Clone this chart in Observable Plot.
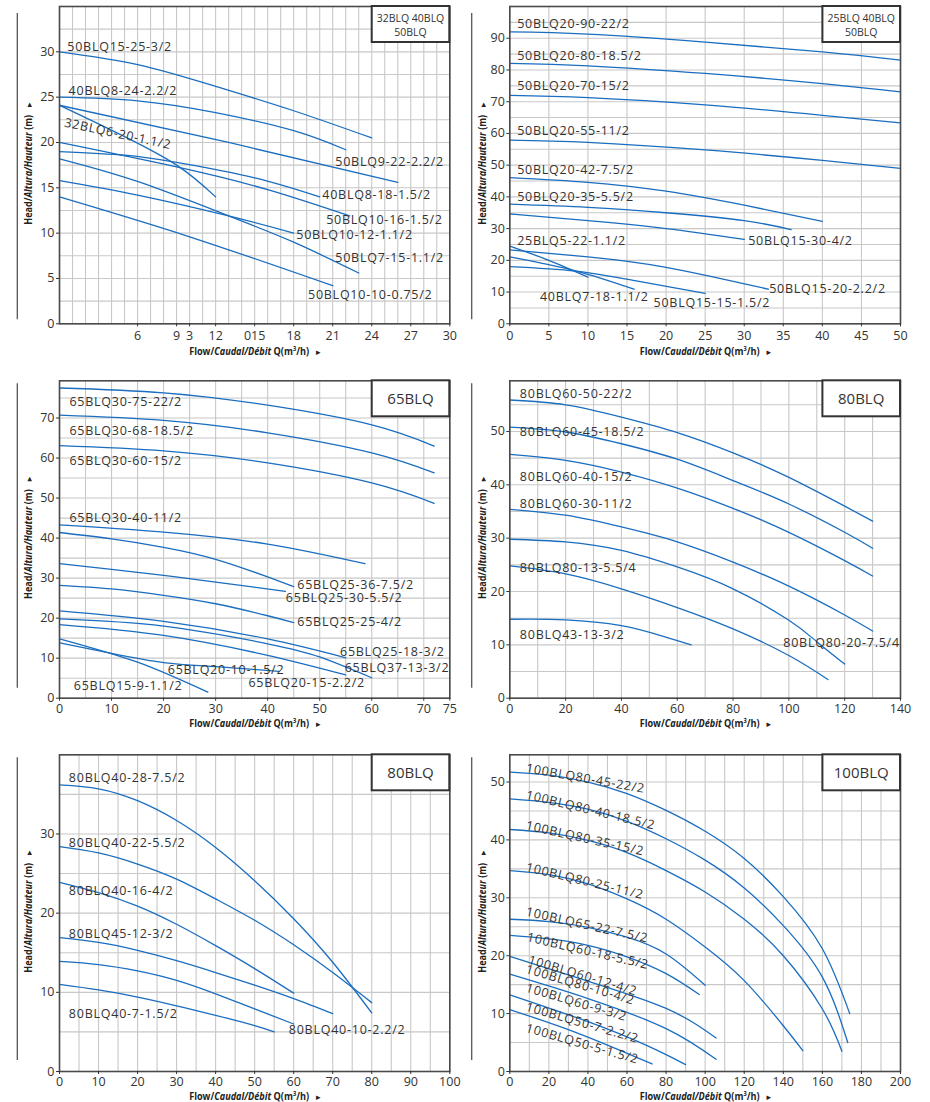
<!DOCTYPE html>
<html><head><meta charset="utf-8">
<script src="https://cdn.jsdelivr.net/npm/d3@7"></script>
<script src="https://cdn.jsdelivr.net/npm/@observablehq/plot@0.6"></script>
<style>
body{margin:0;background:#fff;}
#wrap{position:relative;width:930px;height:1102px;overflow:hidden;}
.panel{position:absolute;}
</style></head><body><div id="wrap"></div>
<script>
// ---------- Panel 1 : 32BLQ 40BLQ 50BLQ ----------
const p1Series = [
  ["50BLQ15-25-3/2", [[0,30],[6,28.6],[12,26.2],[18,23.5],[24,20.5]]],
  ["40BLQ8-24-2.2/2", [[0,25],[6,24.6],[12,23.3],[18,21.3],[22,19.2]]],
  ["50BLQ9-22-2.2/2", [[0,24.1],[13,20.0],[26,15.6]]],
  ["32BLQ6-20-1.1/2", [[0,24.1],[4.5,21.0],[9,17.5],[12,14.0]]],
  ["40BLQ8-18-1.5/2", [[0,19],[5,18.6],[9,17.8],[15,16.1],[20,14.0]]],
  ["50BLQ10-16-1.5/2", [[0,20],[9,17.3],[16,14.8],[22.3,11.9]]],
  ["50BLQ10-12-1.1/2", [[0,15.8],[6,14.2],[13,11.9],[18,10]]],
  ["50BLQ7-15-1.1/2", [[0,18.2],[6,15.7],[13,11.9],[18,9.0],[23,5.6]]],
  ["50BLQ10-10-0.75/2", [[0,14],[10,9.6],[21,4.2]]]
];
const p1Labels = [
  ["50BLQ15-25-3/2",0.6,30.55,0],["40BLQ8-24-2.2/2",0.7,25.7,0],["32BLQ6-20-1.1/2",0.4,22.2,12],
  ["50BLQ9-22-2.2/2",21.2,17.85,0],["40BLQ8-18-1.5/2",20.2,14.25,0],["50BLQ10-16-1.5/2",20.5,11.5,0],
  ["50BLQ10-12-1.1/2",18.2,9.85,0],["50BLQ7-15-1.1/2",21.2,7.3,0],["50BLQ10-10-0.75/2",19.1,3.2,0]
];
const p1XTicks = [6,9,10,12,15,18,21,24,27,30];
const p1XTickLabels = ["6","9","3","12","015","18","21","24","27","30"];
const p1YTicks = [0,5,10,15,20,25,30];

// ---------- Panel 2 : 25BLQ 40BLQ 50BLQ ----------
const p2Series = [
  ["50BLQ20-90-22/2", [[0,92],[10,91.3],[25,88.8],[40,85.7],[50,83.1]]],
  ["50BLQ20-80-18.5/2", [[0,82.1],[10,81.3],[25,78.9],[40,75.7],[50,73.1]]],
  ["50BLQ20-70-15/2", [[0,72],[10,71.3],[25,69],[40,65.7],[50,63.3]]],
  ["50BLQ20-55-11/2", [[0,57.9],[10,57.2],[25,54.8],[40,51.5],[50,49]]],
  ["50BLQ20-42-7.5/2", [[0,46.1],[10,44.6],[20,41.8],[30,37.4],[40,32.3]]],
  ["50BLQ20-35-5.5/2", [[0,37.7],[10,36.7],[20,35],[30,32.5],[36,29.7]]],
  ["50BLQ15-30-4/2", [[0,34.6],[10,32.5],[20,30],[30,26.6]]],
  ["50BLQ15-20-2.2/2", [[0,23.3],[10,21.1],[20,17.8],[33.1,10.9]]],
  ["25BLQ5-22-1.1/2", [[0,24.5],[5,20],[10,14.7]]],
  ["40BLQ7-18-1.1/2", [[0,21.1],[8.4,16.7],[15.9,10.9]]],
  ["50BLQ15-15-1.5/2", [[0,18],[8.4,16.6],[16,13.6],[25,9.6]]]
];
const p2Labels = [
  ["50BLQ20-90-22/2",0.95,94.6,0],["50BLQ20-80-18.5/2",0.95,84.4,0],["50BLQ20-70-15/2",0.95,74.8,0],
  ["50BLQ20-55-11/2",0.95,60.9,0],["50BLQ20-42-7.5/2",0.95,48.6,0],["50BLQ20-35-5.5/2",0.95,40.1,0],
  ["50BLQ15-30-4/2",30.5,26.0,0],["25BLQ5-22-1.1/2",0.95,26.0,0],["50BLQ15-20-2.2/2",33.2,11.1,0],
  ["40BLQ7-18-1.1/2",3.85,8.3,0],["50BLQ15-15-1.5/2",18.4,6.6,0]
];
const p2XTicks = [0,5,10,15,20,25,30,35,40,45,50];
const p2YTicks = [0,10,20,30,40,50,60,70,80,90];

// ---------- Panel 3 : 65BLQ ----------
const p3Series = [
  ["65BLQ30-75-22/2", [[0,77.5],[20,76.3],[40,73.2],[60,68.3],[72,63]]],
  ["65BLQ30-68-18.5/2", [[0,70.7],[20,69.4],[40,66.3],[60,61.3],[72,56.3]]],
  ["65BLQ30-60-15/2", [[0,63.1],[20,61.8],[40,58.8],[60,53.8],[72,48.7]]],
  ["65BLQ30-40-11/2", [[0,43.3],[20,41.5],[40,38.5],[58.7,33.6]]],
  ["65BLQ25-36-7.5/2", [[0,41.4],[10,39.8],[20,37.7],[30,34.7],[40,30.3],[45,27.9]]],
  ["65BLQ25-30-5.5/2", [[0,33.6],[10,32.2],[20,30.7],[30,29],[43.4,26.7]]],
  ["65BLQ25-25-4/2", [[0,28.2],[10,27.3],[20,25.7],[30,23.6],[40,20.6],[45,18.9]]],
  ["65BLQ25-18-3/2", [[0,21.8],[20,19.2],[40,14.8],[55,10.1]]],
  ["65BLQ37-13-3/2", [[0,19.8],[20,18],[40,13.6],[50,10.3],[60,5.1]]],
  ["65BLQ20-15-2.2/2", [[0,18.4],[20,15.7],[40,10.7],[55,5.8]]],
  ["65BLQ20-10-1.5/2", [[0,13.85],[10,11.2],[20,8.9],[30,7.9],[42.2,6.7]]],
  ["65BLQ15-9-1.1/2", [[0,14.85],[15,9.0],[28.5,1.5]]]
];
const p3Labels = [
  ["65BLQ30-75-22/2",1.9,74,0],["65BLQ30-68-18.5/2",1.9,66.75,0],["65BLQ30-60-15/2",1.9,59.25,0],
  ["65BLQ30-40-11/2",1.9,45,0],["65BLQ25-36-7.5/2",45.7,28.3,0],["65BLQ25-30-5.5/2",43.5,25.1,0],
  ["65BLQ25-25-4/2",45.7,19,0],["65BLQ25-18-3/2",53.9,11.5,0],["65BLQ37-13-3/2",54.8,7.6,0],
  ["65BLQ20-10-1.5/2",20.8,7,0],["65BLQ20-15-2.2/2",36.3,3.8,0],["65BLQ15-9-1.1/2",2.75,3,0]
];
const p3XTicks = [0,10,20,30,40,50,60,70,75];
const p3YTicks = [0,10,20,30,40,50,60,70];

// ---------- Panel 4 : 80BLQ ----------
const p4Series = [
  ["80BLQ60-50-22/2", [[0,55.9],[20,55],[40,52.7],[60,49.8],[80,46],[100,41.4],[120,36],[130,33.2]]],
  ["80BLQ60-45-18.5/2", [[0,50.8],[20,49.9],[40,47.7],[60,44.8],[80,40.8],[100,36.4],[120,31.1],[130,28.1]]],
  ["80BLQ60-40-15/2", [[0,45.7],[20,44.6],[40,42.4],[60,39.4],[80,35.6],[100,31.1],[120,25.8],[130,22.9]]],
  ["80BLQ60-30-11/2", [[0,35.4],[20,34.3],[40,32.1],[60,29.3],[80,25.5],[100,21],[120,15.6],[130,12.6]]],
  ["80BLQ80-20-7.5/4", [[0,29.8],[20,29.3],[40,27.7],[60,24.6],[80,20.5],[100,14.6],[110,10.6],[120,6.4]]],
  ["80BLQ80-13-5.5/4", [[0,24.8],[20,23.3],[40,20.5],[60,17],[80,13],[100,8],[114,3.5]]],
  ["80BLQ43-13-3/2", [[0,14.8],[20,14.7],[40,13.6],[55,11.6],[65,10]]]
];
const p4Labels = [
  ["80BLQ60-50-22/2",3.6,57.1,0],["80BLQ60-45-18.5/2",3.6,49.9,0],["80BLQ60-40-15/2",3.6,41.4,0],
  ["80BLQ60-30-11/2",3.6,36.4,0],["80BLQ80-13-5.5/4",3.6,24.4,0],["80BLQ43-13-3/2",3.6,11.9,0],
  ["80BLQ80-20-7.5/4",98,10.3,0]
];
const p4XTicks = [0,20,40,60,80,100,120,140];
const p4YTicks = [0,10,20,30,40,50];

// ---------- Panel 5 : 80BLQ ----------
const p5Series = [
  ["80BLQ40-28-7.5/2", [[0,36.2],[10,35.7],[20,34.2],[30,31.7],[40,28.3],[50,24.1],[60,19.3],[70,13.8],[80,7.4]]],
  ["80BLQ40-22-5.5/2", [[0,28.4],[10,27.6],[20,26.2],[30,24.3],[40,21.8],[50,19.1],[60,16],[70,12.5],[80,8.7]]],
  ["80BLQ40-16-4/2", [[0,23.9],[10,22.6],[20,20.9],[30,18.6],[40,15.9],[50,13],[60,9.9]]],
  ["80BLQ45-12-3/2", [[0,16.9],[10,16.3],[20,15.3],[30,14],[40,12.5],[50,10.9],[60,9.2],[70,7.3]]],
  ["80BLQ40-10-2.2/2", [[0,13.9],[10,13.5],[20,12.7],[30,11.5],[40,9.8],[50,7.9],[60,6]]],
  ["80BLQ40-7-1.5/2", [[0,11],[10,10.3],[20,9.4],[30,8.3],[40,7.1],[50,5.8],[55,5]]]
];
const p5Labels = [
  ["80BLQ40-28-7.5/2",2.4,37.1,0],["80BLQ40-22-5.5/2",2.4,28.9,0],["80BLQ40-16-4/2",2.4,22.8,0],
  ["80BLQ45-12-3/2",2.4,17.4,0],["80BLQ40-7-1.5/2",2.4,7.3,0],["80BLQ40-10-2.2/2",58.75,5.3,0]
];
const p5XTicks = [0,10,20,30,40,50,60,70,80,90,100];
const p5YTicks = [0,10,20,30];

// ---------- Panel 6 : 100BLQ ----------
const p6Series = [
  ["100BLQ80-45-22/2", [[0,51.7],[20,51.2],[40,50],[60,48],[80,45.1],[100,41.5],[120,36.8],[140,30.2],[160,21.2],[174,10]]],
  ["100BLQ80-40-18.5/2", [[0,47.1],[20,46.5],[40,45.3],[60,43.2],[80,40.2],[100,36.5],[120,31.7],[140,25.2],[160,16.3],[173,5]]],
  ["100BLQ80-35-15/2", [[0,41.8],[20,41.2],[40,39.9],[60,37.8],[80,34.7],[100,31],[120,26.3],[140,20],[160,10.8],[170,3.5]]],
  ["100BLQ80-25-11/2", [[0,34.7],[20,34],[40,32.4],[60,29.8],[80,26.3],[100,21.5],[120,15.7],[140,7.9],[150,3.6]]],
  ["100BLQ65-22-7.5/2", [[0,26.3],[20,25.9],[40,24.9],[60,23.2],[80,20.3],[100,14.9]]],
  ["100BLQ60-18-5.5/2", [[0,23.5],[20,22.9],[40,21.8],[60,19.8],[80,16.9],[97,13.3]]],
  ["100BLQ60-12-4/2", [[0,19.9],[40,15.6],[80,10.9],[105.6,5.8]]],
  ["100BLQ80-10-4/2", [[0,16.8],[40,12.6],[80,7.4],[105.6,2.1]]],
  ["100BLQ50-7-2.2/2", [[0,13.25],[40,8.6],[70,4.5],[90,1.2]]],
  ["100BLQ50-5-1.5/2", [[0,10.7],[35,6.6],[72.9,1.3]]]
];
const p6Labels = [
  ["100BLQ80-45-22/2",8.4,52.4,10],["100BLQ80-40-18.5/2",8.4,47.8,13.5],["100BLQ80-35-15/2",8.4,42.5,12.5],
  ["100BLQ80-25-11/2",8.4,35.3,13.5],["100BLQ65-22-7.5/2",8.4,27.6,12.5],["100BLQ60-18-5.5/2",8.9,23.2,13],
  ["100BLQ60-12-4/2",9.7,19.3,16.4],["100BLQ80-10-4/2",8.4,17.7,16.4],["100BLQ60-9-3/2",8.4,14.5,16.5],
  ["100BLQ50-7-2.2/2",8.4,11.2,16.2],["100BLQ50-5-1.5/2",8.4,7.55,16]
];
const p6XTicks = [0,20,40,60,80,100,120,140,160,180,200];
const p6YTicks = [0,10,20,30,40,50];

const range = (a, b, s) => d3.range(a, b + s / 2, s);

const panels = [
  {row:0,col:0,series:p1Series,labels:p1Labels,xDomain:[0,30],yDomain:[0,35],xTicks:p1XTicks,
   xFormat:d=>p1XTickLabels[p1XTicks.indexOf(d)],yTicks:p1YTicks,xGrid:range(0,30,1),yGrid:range(0,35,2.5),box:["32BLQ 40BLQ","50BLQ"]},
  {row:0,col:1,series:p2Series,labels:p2Labels,xDomain:[0,50],yDomain:[0,100],xTicks:p2XTicks,
   yTicks:p2YTicks,xGrid:range(0,50,5),yGrid:range(0,100,5),box:["25BLQ 40BLQ","50BLQ"]},
  {row:1,col:0,series:p3Series,labels:p3Labels,xDomain:[0,75],yDomain:[0,79.3],xTicks:p3XTicks,
   yTicks:p3YTicks,xGrid:range(0,75,5),yGrid:range(0,75,5),box:["65BLQ"]},
  {row:1,col:1,series:p4Series,labels:p4Labels,xDomain:[0,140],yDomain:[0,59.5],xTicks:p4XTicks,
   yTicks:p4YTicks,xGrid:range(0,140,10),yGrid:range(0,55,5),box:["80BLQ"]},
  {row:2,col:0,series:p5Series,labels:p5Labels,xDomain:[0,100],yDomain:[0,40],xTicks:p5XTicks,
   yTicks:p5YTicks,xGrid:range(0,100,5),yGrid:range(0,40,5),box:["80BLQ"]},
  {row:2,col:1,series:p6Series,labels:p6Labels,xDomain:[0,200],yDomain:[0,54.7],xTicks:p6XTicks,
   yTicks:p6YTicks,xGrid:range(0,200,10),yGrid:range(0,50,5),box:["100BLQ"]}
];

const ROWS = [
  {top:0,h:372,mT:6,mB:48.7,tt:27.7,pad:4,dl:[7,-4]},
  {top:372,h:372,mT:8.3,mB:46.3,tt:26,pad:3,dl:[3,-10]},
  {top:744,h:358,mT:10.3,mB:31,tt:25.5,pad:3,dl:[3,-11]}
];
const FONT = "'Open Sans', sans-serif";
const BLUE = "#1a6dbf";
const wrap = document.getElementById("wrap");

// squeeze a group horizontally so that its text fits a given width
function fitGroup(g, textSel, x0, y0, targetW) {
  const w = textSel.node().getComputedTextLength() || targetW;
  g.attr("transform", `translate(${x0},${y0}) scale(${Math.min(1, targetW / w)},1)`);
}

for (const p of panels) {
  const W = 465;
  const leftCol = p.col === 0;
  const mL = leftCol ? 59 : 44.3, mR = leftCol ? 15.7 : 30;
  const r = ROWS[p.row];
  const data = p.series.flatMap(([id, pts]) => pts.map(([x, y]) => ({id, x, y})));
  const labels = p.labels.map(([text, x, y, rot]) => ({text, x, y, rot}));
  const chart = Plot.plot({
    width: W, height: r.h,
    marginLeft: mL, marginRight: mR, marginTop: r.mT, marginBottom: r.mB,
    style: {fontFamily: FONT, fontSize: "12.5px", color: "#333", background: "transparent", overflow: "visible"},
    x: {domain: p.xDomain},
    y: {domain: p.yDomain},
    marks: [
      Plot.gridX(p.xGrid, {stroke: "#c8c8c8", strokeOpacity: 1, strokeWidth: 1.1}),
      Plot.gridY(p.yGrid, {stroke: "#c8c8c8", strokeOpacity: 1, strokeWidth: 1.1}),
      Plot.line(data, {x: "x", y: "y", z: "id", stroke: BLUE, strokeWidth: 1.3, curve: "natural"}),
      Plot.text(labels, {x: "x", y: "y", text: "text", rotate: "rot", textAnchor: "start", lineAnchor: "middle",
        fill: "#333", fontSize: 12.5}),
      Plot.frame({stroke: "#4a4a4a", strokeWidth: 1.6}),
      Plot.axisX({ticks: p.xTicks, tickFormat: p.xFormat || (d => d), tickSize: 3, tickPadding: r.pad, label: null, fontSize: 12.5}),
      Plot.axisY({ticks: p.yTicks, tickSize: 3, tickPadding: 2, label: null, fontSize: 12.5})
    ]
  });

  const div = document.createElement("div");
  div.className = "panel";
  div.style.left = (p.col * 465) + "px";
  div.style.top = r.top + "px";
  div.appendChild(chart);
  wrap.appendChild(div);

  const svg = d3.select(chart);
  svg.selectAll('g[aria-label="text"] text').style("letter-spacing", "0.75px");

  const fx0 = mL, fx1 = W - mR, fy0 = r.mT, fy1 = r.h - r.mB;
  const cx = (fx0 + fx1) / 2, cy = (fy0 + fy1) / 2;

  // decorative left rule
  const lx = leftCol ? 17.3 : 6.7;
  svg.append("line").attr("x1", lx).attr("x2", lx).attr("y1", fy0 + r.dl[0]).attr("y2", fy1 + r.dl[1])
    .attr("stroke", "#555").attr("stroke-width", 1.3);

  // x title
  const gx = svg.append("g");
  const xt = gx.append("text").attr("x", 0).attr("y", 3.5).attr("text-anchor", "start")
    .attr("font-family", FONT).attr("font-weight", 700).attr("font-size", 10.5).attr("fill", "#222");
  xt.append("tspan").text("Flow/");
  xt.append("tspan").attr("font-style", "italic").text("Caudal/Débit");
  xt.append("tspan").text(" Q(m");
  xt.append("tspan").attr("font-size", 6.5).attr("dy", -4).text("3");
  xt.append("tspan").attr("dy", 4).text("/h)");
  fitGroup(gx, xt, cx - 65, fy1 + r.tt, 120);
  svg.append("text").attr("x", cx + 64).attr("y", fy1 + r.tt + 3.5).attr("text-anchor", "middle")
    .attr("font-family", "DejaVu Sans").attr("font-size", 9).attr("fill", "#222").text("▸");

  // y title
  const yx = leftCol ? mL - 30.7 : mL - 27;
  const g = svg.append("g").attr("transform", `translate(${yx},${cy}) rotate(-90)`);
  const gy = g.append("g");
  const yt = gy.append("text").attr("x", 0).attr("y", 3.5).attr("text-anchor", "start")
    .attr("font-family", FONT).attr("font-weight", 700).attr("font-size", 10.5).attr("fill", "#222");
  yt.append("tspan").text("Head/");
  yt.append("tspan").attr("font-style", "italic").text("Altura/Hauteur");
  yt.append("tspan").text(" (m)");
  fitGroup(gy, yt, -60, 0, 110);
  g.append("text").attr("x", 60).attr("y", 3.5).attr("text-anchor", "middle")
    .attr("font-family", "DejaVu Sans").attr("font-size", 9).attr("fill", "#222").text("▸");

  // legend box
  const bw = 77.6, bh = 36;
  svg.append("rect").attr("x", fx1 - bw).attr("y", fy0).attr("width", bw).attr("height", bh)
    .attr("fill", "#fff").attr("stroke", "#333").attr("stroke-width", 2);
  const bcx = fx1 - bw / 2;
  if (p.box.length === 2) {
    p.box.forEach((t, i) => svg.append("text").attr("x", bcx).attr("y", fy0 + 12.3 + i * 14 + 3.7)
      .attr("text-anchor", "middle").attr("font-family", FONT).attr("font-size", 10.5).attr("fill", "#333").text(t));
  } else {
    svg.append("text").attr("x", bcx).attr("y", fy0 + 18 + 5.4).attr("text-anchor", "middle")
      .attr("font-family", FONT).attr("font-size", 15).attr("fill", "#333").text(p.box[0]);
  }
}
</script></body></html>
